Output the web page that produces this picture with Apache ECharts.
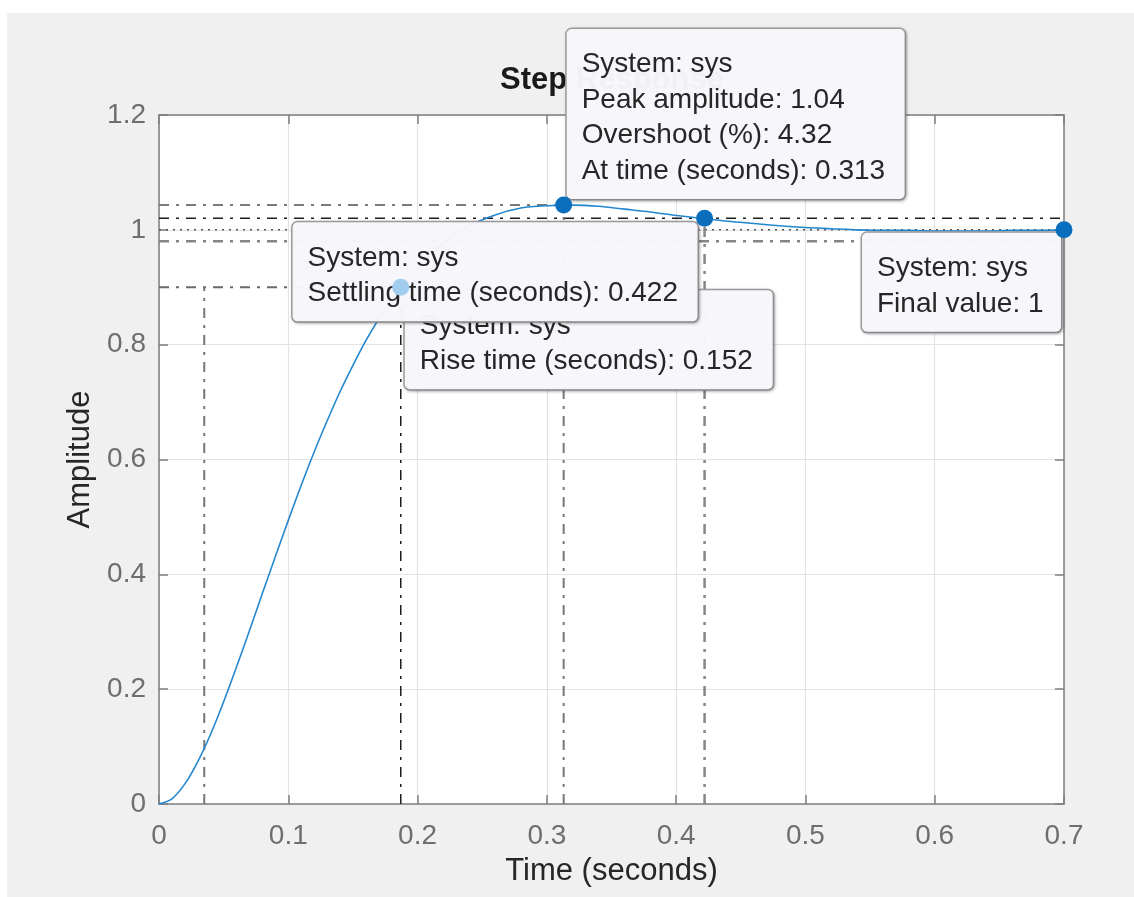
<!DOCTYPE html>
<html>
<head>
<meta charset="utf-8">
<script src="https://cdn.jsdelivr.net/npm/echarts@6/dist/echarts.min.js"></script>
<style>
  html, body { margin: 0; padding: 0; background: #fff; }
  #wrap { position: relative; width: 1134px; height: 897px; }
  #bg { position: absolute; left: 7px; top: 13px; right: 0; bottom: 0; background: #f0f0f0; }
  #chart { position: absolute; left: 0; top: 0; width: 1134px; height: 897px; }
</style>
</head>
<body>
<div id="wrap"><div id="bg"></div><div id="chart"></div></div>
<script>
// step response
const timeSec = [0, 0.01, 0.02, 0.03, 0.04, 0.05, 0.06, 0.07, 0.08, 0.09, 0.10, 0.11, 0.12, 0.13, 0.14, 0.15, 0.16, 0.17, 0.18, 0.19, 0.20,
  0.22, 0.24, 0.26, 0.28, 0.30, 0.32, 0.34, 0.36, 0.38, 0.40, 0.42, 0.44, 0.46, 0.48, 0.50, 0.52, 0.54, 0.56, 0.58, 0.60, 0.62, 0.64, 0.66, 0.68, 0.70]
const amplitude = [0, 0.009, 0.035, 0.074, 0.122, 0.178, 0.239, 0.302, 0.367, 0.431, 0.494, 0.555, 0.613, 0.667, 0.718, 0.764, 0.807, 0.845, 0.879, 0.909, 0.935,
  0.977, 1.007, 1.026, 1.038, 1.042, 1.043, 1.041, 1.036, 1.031, 1.025, 1.020, 1.015, 1.011, 1.007, 1.004, 1.002, 1.000, 0.999, 0.999, 0.998, 0.998, 0.998, 0.999, 0.999, 1.000]

// tick labels
const xTicks = [0, 0.1, 0.2, 0.3, 0.4, 0.5, 0.6, 0.7]
const yTicks = [0, 0.2, 0.4, 0.6, 0.8, 1, 1.2]

// characteristics
const riseTimes = [0.035, 0.187]   // 10% / 90% crossings
const riseTop = 0.9
const peakTime = 0.313
const peakAmp = 1.0432
const settleTime = 0.422
const settleBand = [0.98, 1.02]
const finalValue = 1
const endTime = 0.7

// datatip texts
const peakTip = ['System: sys', 'Peak amplitude: 1.04', 'Overshoot (%): 4.32', 'At time (seconds): 0.313']
const settleTip = ['System: sys', 'Settling time (seconds): 0.422']
const riseTip = ['System: sys', 'Rise time (seconds): 0.152']
const finalTip = ['System: sys', 'Final value: 1']

const FONT = '"Liberation Sans", Arial, Helvetica, sans-serif'
const dashDot = [10, 7, 3, 7]

const chart = echarts.init(document.getElementById('chart'))

// one guide segment from two points
function guide(p1, p2, color, width, type) {
  return {
    type: 'line', data: [p1, p2], symbol: 'none', silent: true, z: 2,
    lineStyle: { color: color, width: width, type: type || dashDot }
  }
}

// datatip box hung on a (hidden) point
function tip(point, lines, pos, boxW, z) {
  return {
    type: 'scatter', data: [point], symbolSize: 16, z: z, silent: true,
    itemStyle: { color: 'rgba(0,0,0,0)', opacity: 1 },
    label: {
      show: true, position: pos, align: 'left', verticalAlign: 'top',
      formatter: lines.join('\n'),
      fontFamily: FONT, fontSize: 28, lineHeight: 35.5, color: '#262626',
      width: boxW - 30, overflow: 'none',
      backgroundColor: 'rgba(248,248,253,0.97)',
      borderColor: '#a0a0a0', borderWidth: 1.5, borderRadius: 5,
      padding: [18, 15, 10, 15],
      shadowColor: 'rgba(0,0,0,0.25)', shadowBlur: 3, shadowOffsetX: 1, shadowOffsetY: 1
    }
  }
}

function frameAxis(extra) {
  return Object.assign({
    type: 'value',
    axisLine: { show: true, onZero: false, lineStyle: { color: '#7f7f7f', width: 1.5 } },
    axisTick: { show: true, inside: true, length: 9, lineStyle: { color: '#7f7f7f', width: 1.5 } },
    axisLabel: { show: false },
    splitLine: { show: false }
  }, extra)
}

const series = [
  guide([0, peakAmp], [peakTime, peakAmp], '#7a7a7a', 2),
  guide([0, settleBand[1]], [endTime, settleBand[1]], '#1e1e1e', 1.5),
  guide([0, finalValue], [endTime, finalValue], '#555', 1.5, [2, 5]),
  guide([0, settleBand[0]], [endTime, settleBand[0]], '#858585', 2.5),
  guide([0, riseTop], [riseTimes[1], riseTop], '#6a6a6a', 2),
  guide([riseTimes[0], 0], [riseTimes[0], riseTop], '#777', 2),
  guide([riseTimes[1], 0], [riseTimes[1], riseTop], '#1e1e1e', 1.5),
  guide([peakTime, 0], [peakTime, peakAmp], '#777', 2),
  guide([settleTime, 0], [settleTime, settleBand[1]], '#858585', 2.5),
  {
    type: 'line', data: timeSec.map((t, i) => [t, amplitude[i]]),
    symbol: 'none', smooth: 0.3, z: 3,
    lineStyle: { color: '#2387d0', width: 1.6 }
  },
  tip([riseTimes[1], riseTop], riseTip, [12, 11], 368, 4),
  tip([settleTime, settleBand[1]], settleTip, [-404, 12], 405, 5),
  tip([endTime, finalValue], finalTip, [-194, 11], 199, 5),
  tip([peakTime, peakAmp], peakTip, [11, -168], 338, 6),
  {
    type: 'scatter', z: 10, symbolSize: 17, silent: true,
    data: [
      { value: [riseTimes[1], riseTop], itemStyle: { color: '#a3cdef' } },
      { value: [peakTime, peakAmp] },
      { value: [settleTime, settleBand[1]] },
      { value: [endTime, finalValue] }
    ],
    itemStyle: { color: '#0a6ebd', opacity: 1 }
  }
]

const xRange = { min: xTicks[0], max: xTicks[xTicks.length - 1], interval: xTicks[1] - xTicks[0] }
const yRange = { min: yTicks[0], max: yTicks[yTicks.length - 1], interval: yTicks[1] - yTicks[0] }

chart.setOption({
  animation: false,
  textStyle: { fontFamily: FONT },
  title: {
    text: 'Step Response', left: 612, top: 65, textAlign: 'center', padding: 0, z: 1,
    textStyle: { fontFamily: FONT, fontSize: 31, fontWeight: 'bold', color: '#1a1a1a' }
  },
  grid: {
    left: 159, top: 115, right: 70, bottom: 93,
    show: true, backgroundColor: '#ffffff', borderWidth: 0
  },
  xAxis: [
    frameAxis(Object.assign({
      position: 'bottom',
      name: 'Time (seconds)', nameLocation: 'middle', nameGap: 52,
      nameTextStyle: { fontFamily: FONT, fontSize: 31, color: '#262626' },
      axisLabel: { show: true, fontFamily: FONT, fontSize: 28, color: '#6e6e6e', margin: 18 },
      splitLine: { show: true, lineStyle: { color: '#e3e3e3', width: 1.2 } }
    }, xRange)),
    frameAxis(Object.assign({ position: 'top' }, xRange))
  ],
  yAxis: [
    frameAxis(Object.assign({
      position: 'left',
      name: 'Amplitude', nameLocation: 'middle', nameGap: 62,
      nameTextStyle: { fontFamily: FONT, fontSize: 31, color: '#262626' },
      axisLabel: { show: true, fontFamily: FONT, fontSize: 28, color: '#6e6e6e', margin: 13 },
      splitLine: { show: true, lineStyle: { color: '#e3e3e3', width: 1.2 } }
    }, yRange)),
    frameAxis(Object.assign({ position: 'right' }, yRange))
  ],
  series: series
})
</script>
</body>
</html>
